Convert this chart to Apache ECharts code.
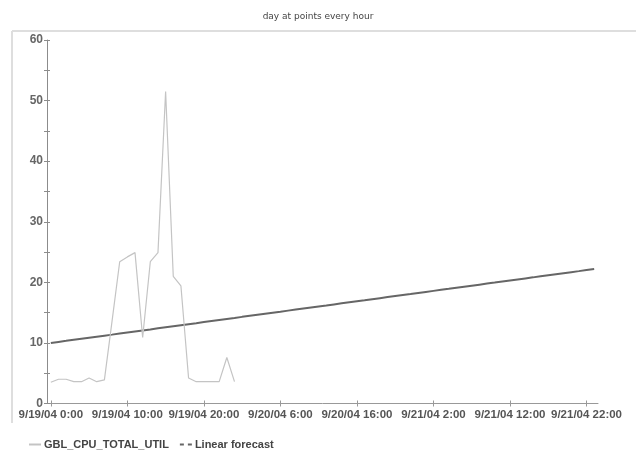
<!DOCTYPE html>
<html>
<head>
<meta charset="utf-8">
<script src="https://cdn.jsdelivr.net/npm/echarts@6/dist/echarts.min.js"></script>
<style>
html,body{margin:0;padding:0;background:#fff;}
#chart{width:636px;height:451px;}
</style>
</head>
<body>
<div id="chart"></div>
<script>
var titleText = 'day at points every hour';
var days = ['9/19/04', '9/20/04', '9/21/04'];
var hoursPerDay = 24;
var categories = [];
for (var d = 0; d < days.length; d++) {
  for (var h = 0; h < hoursPerDay; h++) {
    categories.push(days[d] + ' ' + h + ':00');
  }
}
var cpuName = 'GBL_CPU_TOTAL_UTIL';
var forecastName = 'Linear forecast';
var cpuUtil = [3.5, 4.0, 4.0, 3.6, 3.6, 4.2, 3.6, 3.9, 13.6, 23.4, 24.2, 24.9,
               10.9, 23.4, 24.9, 51.5, 21.0, 19.4, 4.2, 3.6, 3.6, 3.6, 3.6, 7.6, 3.6];
var linearForecast = [
  10.00, 10.17, 10.34, 10.52, 10.69, 10.86, 11.03, 11.20, 11.37, 11.55, 11.72, 11.89,
  12.06, 12.23, 12.41, 12.58, 12.75, 12.92, 13.09, 13.26, 13.44, 13.61, 13.78, 13.95,
  14.12, 14.30, 14.47, 14.64, 14.81, 14.98, 15.15, 15.33, 15.50, 15.67, 15.84, 16.01,
  16.18, 16.36, 16.53, 16.70, 16.87, 17.04, 17.22, 17.39, 17.56, 17.73, 17.90, 18.07,
  18.25, 18.42, 18.59, 18.76, 18.93, 19.11, 19.28, 19.45, 19.62, 19.79, 19.96, 20.14,
  20.31, 20.48, 20.65, 20.82, 21.00, 21.17, 21.34, 21.51, 21.68, 21.85, 22.03, 22.20
];
var yMin = 0, yMax = 60, yStep = 5, yLabelStep = 10;
var xLabelEvery = 10;

var font = '"Liberation Sans", Arial, sans-serif';
var chart = echarts.init(document.getElementById('chart'), null, {renderer: 'canvas'});
var baseX = {
  type: 'category', data: categories, boundaryGap: true, gridIndex: 0, position: 'bottom'
};
var baseY = {
  type: 'value', min: yMin, max: yMax, interval: yStep, gridIndex: 0, position: 'left',
  splitLine: {show: false}
};
chart.setOption({
  animation: false,
  title: {
    text: titleText, left: 'center', top: 7,
    textStyle: {fontFamily: '"DejaVu Sans", Verdana, sans-serif', fontSize: 9, fontWeight: 'normal', color: '#444'}
  },
  graphic: [
    {type: 'line', shape: {x1: 12, y1: 31, x2: 636, y2: 31}, style: {stroke: '#dedede', lineWidth: 2}, silent: true},
    {type: 'line', shape: {x1: 12, y1: 31, x2: 12, y2: 423}, style: {stroke: '#dedede', lineWidth: 2}, silent: true}
  ],
  legend: {
    left: 24, top: 434, itemWidth: 12, itemHeight: 2, itemGap: 11,
    textStyle: {fontFamily: font, fontSize: 11, fontWeight: 'bold', color: '#444', padding: [0, 0, 0, -2]},
    data: [
      {name: cpuName, icon: 'rect'},
      {name: forecastName, icon: 'path://M0,0h4v2h-4z M8,0h4v2h-4z'}
    ]
  },
  grid: {left: 47, right: 38, top: 40, bottom: 47.5, containLabel: false},
  xAxis: [
    Object.assign({}, baseX, {
      axisLine: {show: true, lineStyle: {color: '#999', width: 1}},
      axisTick: {show: true, alignWithLabel: true, interval: xLabelEvery - 1, length: 3, lineStyle: {color: '#999'}},
      axisLabel: {interval: xLabelEvery - 1, margin: 5, fontFamily: font, fontSize: 11.5, fontWeight: 'bold', color: '#555'}
    }),
    Object.assign({}, baseX, {
      axisLine: {show: false},
      axisTick: {show: true, inside: true, alignWithLabel: true, interval: xLabelEvery - 1, length: 3, lineStyle: {color: '#999'}},
      axisLabel: {show: false}
    })
  ],
  yAxis: [
    Object.assign({}, baseY, {
      axisLine: {show: true, lineStyle: {color: '#8c8c8c', width: 1}},
      axisTick: {show: true, length: 3, lineStyle: {color: '#8c8c8c'}},
      axisLabel: {
        margin: 4, fontFamily: font, fontSize: 12, fontWeight: 'bold', color: '#666',
        formatter: function (v) { return v % yLabelStep === 0 ? String(v) : ''; }
      }
    }),
    Object.assign({}, baseY, {
      axisLine: {show: false},
      axisTick: {show: true, inside: true, length: 3, lineStyle: {color: '#8c8c8c'}},
      axisLabel: {show: false}
    })
  ],
  series: [
    {
      name: cpuName, type: 'line', data: cpuUtil, xAxisIndex: 0, yAxisIndex: 0,
      symbol: 'none', color: '#c4c4c4', lineStyle: {color: '#c4c4c4', width: 1.2}, z: 3
    },
    {
      name: forecastName, type: 'line', data: linearForecast, xAxisIndex: 0, yAxisIndex: 0,
      symbol: 'none', color: '#666666', lineStyle: {color: '#666666', width: 2}, z: 2
    }
  ]
});
</script>
</body>
</html>
